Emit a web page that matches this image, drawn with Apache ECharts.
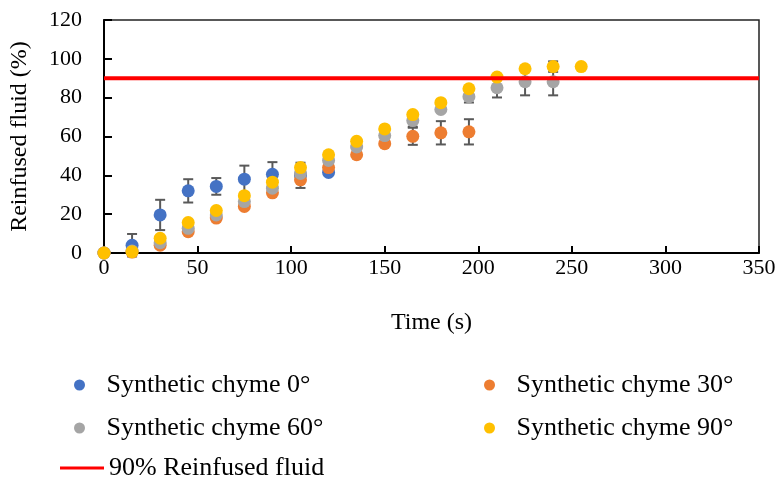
<!DOCTYPE html>
<html>
<head>
<meta charset="utf-8">
<script src="https://cdn.jsdelivr.net/npm/echarts@6/dist/echarts.min.js"></script>
<style>
body{margin:0;background:#fff;}
#my_chart{width:779px;height:479px;}
</style>
</head>
<body>
<div id="my_chart"></div>
<script>
// time points (s)
var times0 = [0, 15, 30, 45, 60, 75, 90, 105, 120];
var times30 = [0, 15, 30, 45, 60, 75, 90, 105, 120, 135, 150, 165, 180, 195];
var times60 = [0, 15, 30, 45, 60, 75, 90, 105, 120, 135, 150, 165, 180, 195, 210, 225, 240];
var times90 = [0, 15, 30, 45, 60, 75, 90, 105, 120, 135, 150, 165, 180, 195, 210, 225, 240, 255];

// reinfused fluid (%)
var chyme0 = [0, 4, 19.6, 32, 34.3, 38, 40.5, 40, 41.5];
var chyme30 = [0, 0.5, 4, 11, 18, 24, 31, 37.7, 44, 50.6, 56.3, 60.1, 61.9, 62.4];
var chyme60 = [0, 1, 5.3, 12.7, 19.6, 26.5, 33.4, 41, 47.7, 54.6, 60.5, 68.2, 73.9, 80.5, 85.1, 88.2, 88.2];
var chyme90 = [0, 0.7, 7.6, 15.7, 21.9, 29.5, 36.5, 44, 50.6, 57.5, 63.9, 71.3, 77.4, 84.6, 90.6, 94.9, 96, 96];

// error bars (+/-), 0 = none drawn
var err0 = [0, 5.8, 7.8, 6, 4.3, 7, 6.3, 6.5, 0];
var err30 = [0, 0, 0, 0, 0, 0, 0, 0, 0, 0, 0, 4.4, 6, 6.5];
var err60 = [0, 0, 0, 0, 0, 0, 0, 0, 0, 0, 0, 3.2, 0, 3, 5, 7, 7];
var err90 = [0, 0, 0, 0, 0, 0, 0, 0, 0, 0, 0, 0, 0, 0, 0, 0, 2.7, 0];

var threshold = 90;
var xTicks = [0, 350, 50];
var yTicks = [0, 120, 20];

var names = ['Synthetic chyme 0°', 'Synthetic chyme 30°', 'Synthetic chyme 60°', 'Synthetic chyme 90°'];
var colors = ['#4472C4', '#ED7D31', '#A5A5A5', '#FFC000'];
var lineName = '90% Reinfused fluid';
var font = 'Liberation Serif, Times New Roman, serif';

function pts(t, v, e) {
    var out = [];
    for (var i = 0; i < t.length; i++) out.push([t[i], v[i], e[i]]);
    return out;
}

function errItem(params, api) {
    var e = api.value(2);
    if (!e) return null;
    var top = api.coord([api.value(0), api.value(1) + e]);
    var bot = api.coord([api.value(0), api.value(1) - e]);
    var x = top[0], w = 5;
    var st = {stroke: '#595959', lineWidth: 2};
    return {
        type: 'group',
        children: [
            {type: 'line', shape: {x1: x, y1: top[1], x2: x, y2: bot[1]}, style: st},
            {type: 'line', shape: {x1: x - w, y1: top[1], x2: x + w, y2: top[1]}, style: st},
            {type: 'line', shape: {x1: x - w, y1: bot[1], x2: x + w, y2: bot[1]}, style: st}
        ]
    };
}

var sets = [
    pts(times0, chyme0, err0),
    pts(times30, chyme30, err30),
    pts(times60, chyme60, err60),
    pts(times90, chyme90, err90)
];

var series = [{
    name: lineName,
    type: 'line',
    data: [[xTicks[0], threshold], [xTicks[1], threshold]],
    showSymbol: false,
    symbol: 'none',
    color: '#FF0000',
    lineStyle: {color: '#FF0000', width: 4},
    silent: true
}];
sets.forEach(function (d, i) {
    series.push({
        type: 'custom',
        renderItem: errItem,
        data: d,
        encode: {x: 0, y: 1},
        silent: true
    });
    series.push({
        name: names[i],
        type: 'scatter',
        data: d,
        symbol: 'circle',
        symbolSize: 13,
        color: colors[i],
        itemStyle: {color: colors[i], opacity: 1}
    });
});

var legendText = {fontFamily: font, fontSize: 26, color: '#000', lineHeight: 30};
function legendAt(name, left, top, icon, w, h) {
    return {
        data: [name], left: left, top: top, padding: 0,
        icon: icon, itemWidth: w, itemHeight: h,
        textStyle: legendText, selectedMode: false
    };
}

var myChart = echarts.init(document.getElementById('my_chart'));
var option = {
    animation: false,
    backgroundColor: '#fff',
    grid: {left: 104, right: 20, top: 20, bottom: 226, show: true, borderColor: '#222', borderWidth: 1.5},
    legend: [
        legendAt(names[0], 74, 370, 'circle', 44, 11),
        legendAt(names[1], 484, 370, 'circle', 44, 11),
        legendAt(names[2], 74, 413, 'circle', 44, 11),
        legendAt(names[3], 484, 413, 'circle', 44, 11),
        legendAt(lineName, 60, 453, 'rect', 44, 3)
    ],
    xAxis: {
        type: 'value', min: xTicks[0], max: xTicks[1], interval: xTicks[2],
        name: 'Time (s)', nameLocation: 'middle', nameGap: 58,
        nameTextStyle: {fontFamily: font, fontSize: 24, color: '#000'},
        axisLine: {lineStyle: {color: '#000', width: 2}},
        axisTick: {inside: true, length: 7, lineStyle: {color: '#000', width: 2}},
        axisLabel: {fontFamily: font, fontSize: 22, color: '#000', margin: 4},
        splitLine: {show: false}
    },
    yAxis: {
        type: 'value', min: yTicks[0], max: yTicks[1], interval: yTicks[2],
        name: 'Reinfused fluid (%)', nameLocation: 'middle', nameGap: 72,
        nameTextStyle: {fontFamily: font, fontSize: 24, color: '#000'},
        axisLine: {lineStyle: {color: '#000', width: 2}},
        axisTick: {inside: true, length: 8, lineStyle: {color: '#000', width: 2}},
        axisLabel: {fontFamily: font, fontSize: 22, color: '#000', margin: 22},
        splitLine: {show: false}
    },
    series: series
};
myChart.setOption(option);
</script>
</body>
</html>
